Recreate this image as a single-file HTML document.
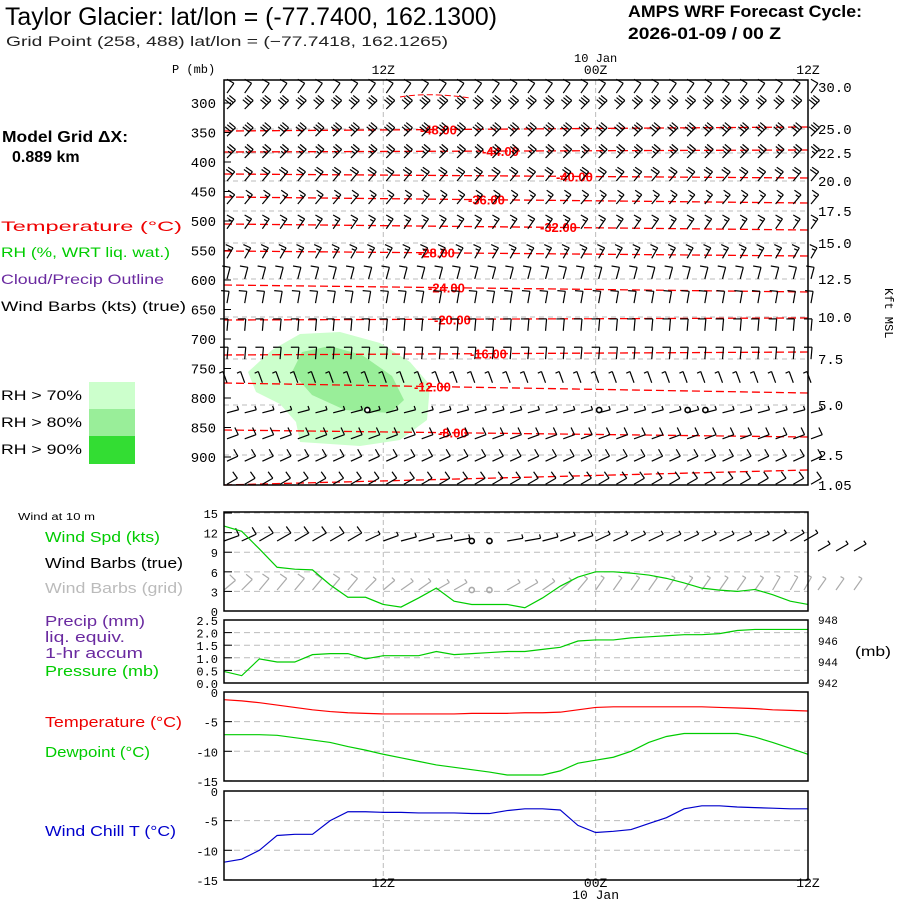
<!DOCTYPE html>
<html><head><meta charset="utf-8"><style>
body{margin:0;background:#fff;}
svg{display:block;}
.m{font-family:"Liberation Mono","DejaVu Sans Mono",monospace;}
.s{font-family:"Liberation Sans",sans-serif;}
</style></head><body>
<svg id="c" width="900" height="900" xmlns="http://www.w3.org/2000/svg">
<g>
<text x="5" y="25" font-family="'Liberation Sans Narrow','Liberation Sans',sans-serif" font-size="25" textLength="492" lengthAdjust="spacingAndGlyphs">Taylor Glacier:  lat/lon = (-77.7400, 162.1300)</text>
<text x="6" y="46" class="s" font-size="14" fill="#222" textLength="442" lengthAdjust="spacingAndGlyphs">Grid Point (258, 488) lat/lon = (−77.7418, 162.1265)</text>
<text x="628" y="17" font-family="'Liberation Sans Narrow','Liberation Sans',sans-serif" font-weight="bold" font-size="17" textLength="234" lengthAdjust="spacingAndGlyphs">AMPS WRF Forecast Cycle:</text>
<text x="628" y="39" font-family="'Liberation Sans Narrow','Liberation Sans',sans-serif" font-weight="bold" font-size="17" textLength="153" lengthAdjust="spacingAndGlyphs">2026-01-09 / 00  Z</text>
</g>
<g class="s" lengthAdjust="spacingAndGlyphs">
<text x="2" y="142" font-size="16" font-weight="bold" textLength="126" lengthAdjust="spacingAndGlyphs">Model Grid ΔX:</text>
<text x="12" y="162" font-size="16" font-weight="bold">0.889 km</text>
<text x="1" y="231" font-size="14" fill="#e00" textLength="181" lengthAdjust="spacingAndGlyphs">Temperature (°C)</text>
<text x="1" y="257" font-size="14" fill="#0c0" textLength="169" lengthAdjust="spacingAndGlyphs">RH (%, WRT liq. wat.)</text>
<text x="1" y="284" font-size="14" fill="#6a2aa0" textLength="163" lengthAdjust="spacingAndGlyphs">Cloud/Precip Outline</text>
<text x="1" y="311" font-size="14" textLength="185" lengthAdjust="spacingAndGlyphs">Wind Barbs (kts) (true)</text>
<rect x="89" y="382" width="46" height="27" fill="#ccffcc"/>
<rect x="89" y="409" width="46" height="27" fill="#99ee99"/>
<rect x="89" y="436" width="46" height="28" fill="#33dd33"/>
<text x="1" y="400" font-size="14" textLength="81" lengthAdjust="spacingAndGlyphs">RH &gt; 70%</text>
<text x="1" y="427" font-size="14" textLength="81" lengthAdjust="spacingAndGlyphs">RH &gt; 80%</text>
<text x="1" y="454" font-size="14" textLength="81" lengthAdjust="spacingAndGlyphs">RH &gt; 90%</text>
<text x="18" y="520" font-size="10" textLength="77" lengthAdjust="spacingAndGlyphs">Wind at 10 m</text>
<text x="45" y="542" font-size="15" fill="#0c0" textLength="115" lengthAdjust="spacingAndGlyphs">Wind Spd (kts)</text>
<text x="45" y="568" font-size="15" textLength="138" lengthAdjust="spacingAndGlyphs">Wind Barbs (true)</text>
<text x="45" y="593" font-size="15" fill="#bbb" textLength="138" lengthAdjust="spacingAndGlyphs">Wind Barbs (grid)</text>
<text x="45" y="626" font-size="15" fill="#6a2aa0" textLength="100" lengthAdjust="spacingAndGlyphs">Precip (mm)</text>
<text x="45" y="642" font-size="15" fill="#6a2aa0" textLength="80" lengthAdjust="spacingAndGlyphs">liq. equiv.</text>
<text x="45" y="658" font-size="15" fill="#6a2aa0" textLength="98" lengthAdjust="spacingAndGlyphs">1-hr accum</text>
<text x="45" y="676" font-size="15" fill="#0c0" textLength="114" lengthAdjust="spacingAndGlyphs">Pressure (mb)</text>
<text x="45" y="727" font-size="15" fill="#e00" textLength="137" lengthAdjust="spacingAndGlyphs">Temperature (°C)</text>
<text x="45" y="757" font-size="15" fill="#0c0" textLength="105" lengthAdjust="spacingAndGlyphs">Dewpoint (°C)</text>
<text x="45" y="836" font-size="15" fill="#00c" textLength="131" lengthAdjust="spacingAndGlyphs">Wind Chill T (°C)</text>
<text x="855" y="656" font-size="14" textLength="36" lengthAdjust="spacingAndGlyphs">(mb)</text>
</g>
<g id="plot"></g>
</svg>
<script>
// ---- data ----
const hours = [...Array(34).keys()];
const timeLabels = ["12Z","00Z","12Z"];
const timeLabelHours = [9,21,33];
const presTicks = [300,350,400,450,500,550,600,650,700,750,800,850,900];
const kftTicks = ["30.0","25.0","22.5","20.0","17.5","15.0","12.5","10.0","7.5","5.0","2.5","1.05"];
const kftY = [87,129,153,181,211,243,279,317,359,405,455,485];
const barbLevels = [273,300,346,383,422,461,503,553,588,629,676,724,764,815,859,897,936];
const barbDir = [35,45,45,45,40,40,35,30,15,10,5,5,340,75,70,65,60];
const barbSpd = [10,30,30,25,20,15,15,15,10,10,10,10,5,5,10,10,10];
const tempLevels = [-48,-44,-40,-36,-32,-28,-24,-20,-16,-12,-8,-4];
const tempYLeft = [131,152,174,197,224,251,285,320,355,383,430,485];
const tempYRight = [127,150,178,203,230,256,292,318,352,393,437,470];
const windSpd = [13,12.2,9.5,6.7,6.4,6.3,4,2.1,2.1,1,0.6,2,3.5,1.5,1,1,1,0.5,2,3.8,5.2,6,6,5.8,5.5,5,4.3,3.5,3.2,3,3.3,2.5,1.5,1];
const pressure = [943.1,942.7,944.3,944,944,944.7,944.8,944.8,944.3,944.6,944.6,944.6,945,944.7,944.8,944.9,945,945,945.2,945.4,946,946.1,946.1,946.3,946.4,946.5,946.6,946.6,946.7,947,947.1,947.1,947.1,947.1];
const sfcTemp = [-1.3,-1.5,-1.8,-2.2,-2.6,-3,-3.3,-3.5,-3.6,-3.7,-3.7,-3.7,-3.7,-3.7,-3.6,-3.6,-3.6,-3.5,-3.5,-3.4,-3,-2.6,-2.5,-2.5,-2.5,-2.5,-2.5,-2.5,-2.6,-2.7,-2.8,-3,-3.1,-3.2];
const dewpoint = [-7.2,-7.2,-7.2,-7.3,-7.7,-8.1,-8.5,-9.2,-9.8,-10.5,-11.1,-11.7,-12.3,-12.7,-13.1,-13.5,-14,-14,-14,-13.3,-12,-11.5,-11,-10,-8.5,-7.5,-7,-7,-7,-7,-7.6,-8.5,-9.5,-10.5];
const windChill = [-12,-11.5,-10,-7.5,-7.3,-7.3,-5,-3.5,-3.5,-3.6,-3.6,-3.7,-3.7,-3.7,-3.8,-3.8,-3.3,-3,-3,-3.2,-5.8,-7,-6.8,-6.5,-5.5,-4.5,-3,-2.5,-2.5,-2.7,-2.8,-2.9,-3,-3];
const sfcBarbDir = [70,65,60,60,60,60,60,60,65,70,75,75,80,80,80,80,80,80,75,70,70,65,65,65,65,65,65,65,65,65,65,60,60,60];
const sfcBarbSpd = [10,10,10,10,10,10,10,10,5,5,5,5,5,5,0,0,5,5,5,5,5,5,5,5,5,5,5,5,5,5,5,5,5,5];

// ---- axes ----
const X0=224, X1=808;
const xS = h => X0 + h*(X1-X0)/33;
const pY = p => 103 + (p-300)*0.59;
const wY = v => 611 - v*6.53;
const prY = p => 683 - (p-942)*10.5;
const tY = v => 692 - v*5.93;
const cY = v => 791 - v*5.93;
const NS="http://www.w3.org/2000/svg";
const plot=document.getElementById('plot');
function el(tag, attrs, parent){const e=document.createElementNS(NS,tag);for(const k in attrs)e.setAttribute(k,attrs[k]);(parent||plot).appendChild(e);return e;}
function txt(x,y,s,attrs,parent){const e=el('text',Object.assign({x:x,y:y},attrs),parent);e.textContent=s;return e;}

const panels=[[80,485,'upper-air-panel'],[512,611,'wind-panel'],[620,683,'pressure-panel'],[692,781,'temperature-panel'],[791,880,'wind-chill-panel']];
panels.forEach(p=>{
 const g=el('g',{});
 
 
 [9,21].forEach(h=>{el('line',{x1:xS(h),x2:xS(h),y1:p[0],y2:p[1],stroke:'#bbb','stroke-dasharray':'5,3'},g);});
});

kftY.forEach((y,i)=>{
 if(i>0&&i<kftY.length-1) el('line',{x1:X0,x2:X1,y1:y,y2:y,stroke:'#bbb','stroke-dasharray':'5,4'});
 const t=txt(818,y+5,kftTicks[i],{class:'m','font-size':14});
 
 
});
presTicks.forEach(p=>{
 el('line',{x1:X0,x2:X0+7,y1:pY(p),y2:pY(p),stroke:'#000'});
 const t=txt(216,pY(p)+5,String(p),{class:'m','font-size':14,'text-anchor':'end'});
 
 
});
txt(172,73,'P (mb)',{class:'m','font-size':12});
const kl=txt(885,288,'Kft MSL',{class:'m','font-size':12,transform:'rotate(90 885 288)'});



const rh1=el('polygon',{points:'248,372 272,350 300,334 340,332 380,343 410,362 430,385 427,420 400,440 360,446 300,442 296,422 280,404 256,392',fill:'#ccffcc'});


const rh2=el('polygon',{points:'292,372 302,352 330,346 362,355 392,376 404,400 390,413 345,410 312,395',fill:'#99ee99'});



tempLevels.forEach((lv,i)=>{
 const l=el('line',{x1:X0,x2:X1,y1:tempYLeft[i],y2:tempYRight[i],stroke:'#f00','stroke-width':1.3,'stroke-dasharray':'8,4'});
 
 
});
el('path',{d:'M400,97 Q430,92 470,98',stroke:'#f00',fill:'none','stroke-dasharray':'6,3'});
const tlx=[420,482,556,468,540,418,428,434,470,414,438];
tlx.forEach((x,i)=>{
 const f=(x-X0)/(X1-X0);
 const y=tempYLeft[i]+(tempYRight[i]-tempYLeft[i])*f;
 const t=txt(x,y+5,tempLevels[i].toFixed(2),{class:'s','font-size':13,'font-weight':'bold',fill:'#f00'});
 
 
});

function barb(x,y,dir,spd,color,len,parent){
 const g=el('g',{stroke:color,'stroke-width':1.2,fill:'none'},parent);
 if(spd<2.5){el('circle',{cx:x,cy:y,r:2.6,'stroke-width':1.6},g);return g;}
 const a=dir*Math.PI/180;
 const dx=Math.sin(a), dy=-Math.cos(a);
 const tx=x+dx*len, ty=y+dy*len;
 el('line',{x1:x,y1:y,x2:tx,y2:ty},g);
 let n=Math.round(spd/5), pos=0;
 const fa=a-Math.PI*0.53;
 while(n>0){
  const bx=tx-dx*pos*3, by=ty-dy*pos*3;
  const fl=n>=2?8:4;
  el('line',{x1:bx,y1:by,x2:bx+Math.sin(fa)*fl,y2:by-Math.cos(fa)*fl},g);
  n-=2;pos++;
 }
 return g;
}
const bg=el('g',{});


barbLevels.forEach((p,i)=>{
 hours.forEach(h=>{
  const b=barb(xS(h)+3,pY(p)+6,barbDir[i],barbSpd[i],'#000',12,bg);
  
  
 });
});
[[8.1,410],[21.2,410],[26.2,410],[27.2,410]].forEach(c=>el('circle',{cx:xS(c[0]),cy:c[1],r:2.6,stroke:'#000','stroke-width':1.6,fill:'#fff'}));
el('rect',{x:X0,y:80,width:X1-X0,height:405,fill:'none',stroke:'#000','stroke-width':1.5});

timeLabels.forEach((s,i)=>{
 const t1=txt(xS(timeLabelHours[i]),74,s,{class:'m','font-size':13,'text-anchor':'middle'});
 
 
 const t2=txt(xS(timeLabelHours[i]),887,s,{class:'m','font-size':13,'text-anchor':'middle'});
 
 
});
txt(xS(21),62,'10 Jan',{class:'m','font-size':12,'text-anchor':'middle'});
txt(xS(21),899,'10 Jan',{class:'m','font-size':13,'text-anchor':'middle'});

function yaxis(ticks,fy,top,bot,fmt){
 ticks.forEach(v=>{
  const y=fy(v);
  if(y>top+1&&y<bot-1) el('line',{x1:X0,x2:X1,y1:y,y2:y,stroke:'#bbb','stroke-dasharray':'6,4'});
  el('line',{x1:X0,x2:X0+8,y1:y,y2:y,stroke:'#000'});
  const t=txt(218,y+5,fmt(v),{class:'m','font-size':12,'text-anchor':'end'});
  
  
 });
}
yaxis([0,3,6,9,12,15],wY,512,611,v=>String(v));
yaxis([0,0.5,1,1.5,2,2.5],v=>683-v*25.2,620,683,v=>v.toFixed(1));
yaxis([0,-5,-10,-15],tY,692,781,v=>String(v));
yaxis([0,-5,-10,-15],cY,791,880,v=>String(v));
[942,944,946,948].forEach(p=>{const t=txt(818,prY(p)+4,String(p),{class:'m','font-size':11});
 
 });

const sg=el('g',{});


hours.forEach(h=>{
 const x=xS(h)+(h===33?-4:0);
 const b1=barb(x,541,sfcBarbDir[h],sfcBarbSpd[h],'#000',16,sg);
 
 
 const b2=barb(x,590,sfcBarbDir[h]-(h<20?20:30),sfcBarbSpd[h],'#aaa',15,sg);
 
 
});
[818,836,854].forEach(x=>{barb(x,551,60,5,'#000',14,sg);barb(x,590,35,5,'#aaa',14,sg);});

function series(vals,fy,color,name){
 const p=el('polyline',{points:vals.map((v,i)=>xS(hours[i])+','+fy(v)).join(' '),fill:'none',stroke:color,'stroke-width':1.2});
 
 
}
series(windSpd,wY,'#0c0','wind-speed-line');
series(pressure,prY,'#0c0','pressure-line');
series(sfcTemp,tY,'#f00','temperature-line');
series(dewpoint,tY,'#0c0','dewpoint-line');
series(windChill,cY,'#00c','wind-chill-line');

[[512,611],[620,683],[692,781],[791,880]].forEach(b=>el('rect',{x:X0,y:b[0],width:X1-X0,height:b[1]-b[0],fill:'none',stroke:'#000','stroke-width':1.5}));
</script>
</body></html>
